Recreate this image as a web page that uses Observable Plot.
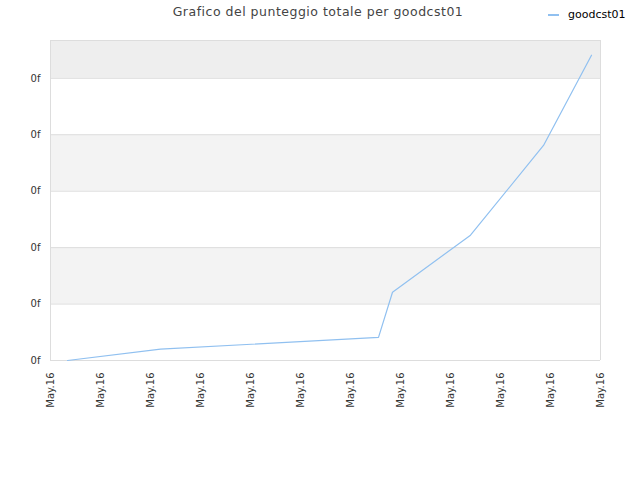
<!DOCTYPE html>
<html>
<head>
<meta charset="utf-8">
<script src="https://cdn.jsdelivr.net/npm/d3@7"></script>
<script src="https://cdn.jsdelivr.net/npm/@observablehq/plot@0.6"></script>
<style>
  body { margin: 0; background: #fff; font-family: "DejaVu Sans", sans-serif; }
  #wrap { position: relative; width: 640px; height: 480px; }
  #header { position: relative; width: 640px; height: 30px; }
  #title { position: absolute; left: 0; width: 636px; top: 4px; text-align: center; font-size: 12.5px; color: #444; letter-spacing: 0.5px; }
  #legend { position: absolute; left: 548px; top: 8px; font-size: 11px; color: #000; display: flex; align-items: center; }
  #legend span.sw { display: inline-block; width: 11px; height: 2px; background: #90c0f0; margin-right: 9px; }
</style>
</head>
<body>
<div id="wrap">
  <div id="header">
    <div id="title">Grafico del punteggio totale per goodcst01</div>
    <div id="legend"><span class="sw"></span><span>goodcst01</span></div>
  </div>
  <div id="chart"></div>
</div>
<script>
const seriesName = "goodcst01";
const xValues = [0.34, 2.2, 6.56, 6.84, 8.4, 9.86, 10.82];
const yValues = [0, 0.2, 0.41, 1.21, 2.22, 3.81, 5.41];
const xTicks = [0, 1, 2, 3, 4, 5, 6, 7, 8, 9, 10, 11];
const xTickLabel = "May.16";
const yTicks = [0, 1, 2, 3, 4, 5];
const yTickLabel = "0f";
const yMax = 5.67;
const bandsLow = [1, 3, 5];
const bandsHigh = [2, 4, 5.67];

const points = xValues.map((x, i) => ({x, y: yValues[i]}));
const bands = bandsLow.map((lo, i) => ({lo, hi: bandsHigh[i], top: i === bandsLow.length - 1}));

const chart = Plot.plot({
  width: 640,
  height: 450,
  marginTop: 10,
  marginBottom: 120,
  marginLeft: 50,
  marginRight: 40,
  style: { fontFamily: "DejaVu Sans, sans-serif", fontSize: "10px", color: "#333", background: "#fff" },
  x: { domain: [0, 11], ticks: xTicks, tickFormat: () => xTickLabel, tickRotate: -90, tickSize: 0, tickPadding: 12, label: null },
  y: { domain: [0, yMax], ticks: yTicks, tickFormat: () => yTickLabel, tickSize: 0, tickPadding: 10, label: null },
  marks: [
    Plot.rectY(bands, { x1: 0, x2: 11, y1: "lo", y2: "hi", fill: d => d.top ? "#eeeeee" : "#f3f3f3" }),
    Plot.ruleY(yTicks, { stroke: "#dddddd", strokeWidth: 1 }),
    Plot.ruleX([0, 11], { stroke: "#dddddd", strokeWidth: 1 }),
    Plot.ruleY([yMax], { stroke: "#dddddd", strokeWidth: 1 }),
    Plot.axisX({ ticks: xTicks, tickFormat: () => xTickLabel, tickRotate: -90, tickSize: 0, tickPadding: 12, label: null, fill: "#333" }),
    Plot.axisY({ ticks: yTicks, tickFormat: () => yTickLabel, tickSize: 0, tickPadding: 10, label: null, fill: "#333" }),
    Plot.line(points, { x: "x", y: "y", stroke: "#90c0f0", strokeWidth: 1.2 })
  ]
});
document.getElementById("chart").appendChild(chart);
</script>
</body>
</html>
